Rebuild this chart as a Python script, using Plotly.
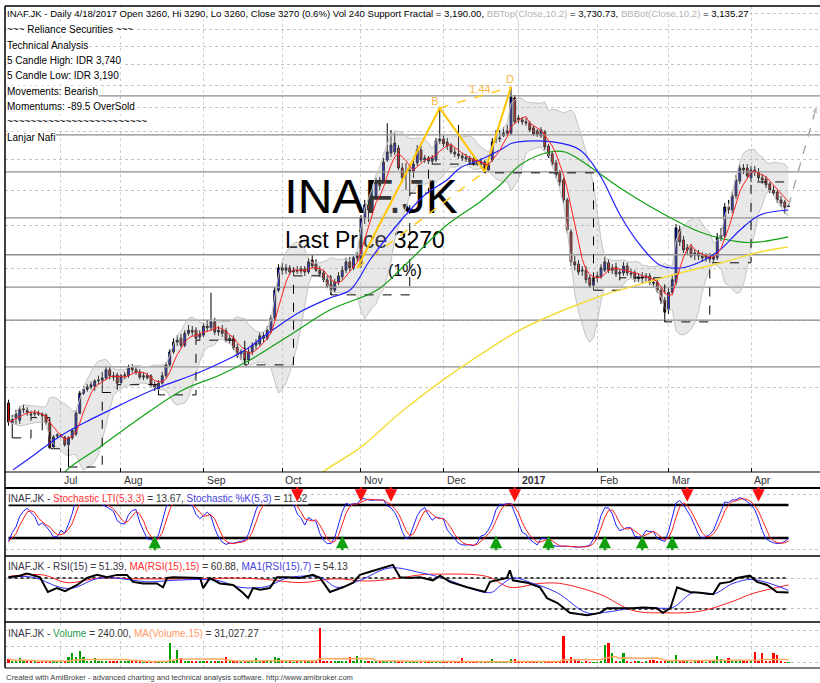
import numpy as np
import pandas as pd
import plotly.graph_objects as go

# ---------------- data ----------------
opens = [
1400,1285,1315,1300,1360,1355,1335,1335,1340,1335,
1330,1285,1160,1215,1215,1210,1170,1205,1225,1340,
1460,1485,1500,1505,1540,1545,1560,1615,1575,1580,
1530,1575,1575,1630,1615,1600,1565,1575,1575,1515,
1485,1525,1575,1650,1745,1820,1850,1795,1890,1915,
1915,1860,1875,1950,1935,1985,1900,1915,1910,1835,
1850,1780,1730,1750,1685,1745,1795,1805,1870,1850,
1915,2020,2275,2505,2480,2505,2460,2480,2470,2495,
2460,2590,2545,2480,2450,2380,2335,2275,2355,2410,
2480,2570,2505,2615,2535,3105,3285,3215,3385,3655,
3655,3985,4105,4125,4195,3850,3770,3785,3785,3935,
4160,3985,4020,3965,3985,4325,4360,4305,4230,4125,
4090,4055,4035,4020,4000,3950,3900,3950,3815,3985,
4345,4360,4420,4475,4475,5205,4775,4735,4695,4670,
4575,4515,4420,4495,4230,4090,3935,3785,3655,3355,
2925,2570,2545,2470,2480,2400,2325,2400,2410,2480,
2560,2480,2515,2440,2450,2525,2450,2450,2390,2410,
2400,2420,2355,2355,2275,2180,2090,2255,2355,2950,
2825,2705,2730,2645,2670,2635,2615,2625,2600,2615,
2860,2875,3255,3215,3415,3640,3850,3850,3690,3815,
3785,3690,3670,3595,3500,3470,3355,3325,3260]
highs = [
1420,1330,1360,1380,1390,1375,1355,1360,1355,1345,
1340,1295,1220,1230,1225,1215,1215,1255,1355,1475,
1505,1520,1535,1550,1575,1600,1640,1635,1600,1595,
1585,1600,1650,1655,1635,1620,1595,1595,1585,1535,
1545,1600,1670,1765,1850,1875,1885,1915,1960,1950,
1940,1915,1975,2000,2250,2020,1950,1960,1935,1875,
1875,1805,1765,1775,1775,1820,1845,1900,1900,1950,
2045,2305,2545,2560,2545,2535,2515,2525,2525,2525,
2615,2645,2600,2525,2480,2420,2365,2390,2460,2525,
2615,2625,2645,2680,3145,3355,3385,3425,3690,3705,
4020,4670,4535,4475,4250,3935,3935,3900,3985,4250,
4230,4070,4055,4070,4380,4985,4435,4380,4285,4195,
4635,4105,4090,4055,4035,4000,4020,3985,3950,4380,
4535,4535,4590,4635,5455,5270,4835,4795,4775,4715,
4615,4555,4590,4535,4270,4140,3985,3815,3690,3385,
2960,2635,2590,2525,2525,2430,2440,2460,2545,2635,
2600,2545,2560,2495,2570,2560,2495,2480,2440,2460,
2450,2450,2400,2390,2305,2210,2295,2420,3025,3000,
2875,2775,2775,2715,2705,2680,2670,2670,2660,2910,
2975,3310,3355,3470,3735,3900,3915,3915,3885,3885,
3850,3750,3720,3625,3565,3500,3415,3355,3290]
lows = [
1270,1205,1275,1280,1340,1325,1315,1320,1325,1245,
1275,1150,1155,1200,1205,1160,1063,1195,1215,1335,
1450,1470,1485,1475,1520,1465,1545,1550,1540,1515,
1520,1550,1560,1595,1580,1550,1545,1550,1500,1475,
1450,1515,1560,1635,1730,1790,1775,1780,1870,1870,
1835,1835,1860,1900,1910,1875,1870,1860,1820,1805,
1760,1700,1685,1650,1655,1720,1765,1790,1820,1835,
1890,2000,2255,2430,2440,2430,2420,2440,2440,2420,
2440,2505,2460,2410,2355,2295,2230,2250,2325,2380,
2450,2470,2480,2570,2505,3025,3050,3160,3355,3500,
3625,3950,4035,4070,3815,3625,3500,3455,3690,3885,
3950,3935,3915,3915,3950,4270,4215,4160,4090,4035,
4000,3965,3950,3900,3885,3885,3865,3770,3785,3950,
4285,4305,4400,4435,4435,4650,4670,4635,4615,4495,
4420,4400,4380,4160,4020,3885,3690,3565,3295,2910,
2525,2480,2430,2420,2345,2295,2275,2355,2390,2460,
2450,2440,2410,2400,2420,2420,2400,2355,2355,2345,
2365,2325,2305,2250,2145,1985,2055,2230,2325,2750,
2670,2660,2615,2590,2590,2570,2570,2560,2570,2590,
2810,2850,3160,3170,3370,3595,3750,3690,3625,3720,
3640,3595,3530,3455,3415,3310,3255,3160,3260]
closes = [
1290,1305,1335,1360,1365,1345,1330,1340,1335,1325,
1285,1155,1210,1220,1220,1170,1205,1245,1340,1460,
1485,1500,1515,1540,1545,1560,1615,1575,1565,1525,
1575,1580,1630,1615,1600,1565,1575,1560,1515,1495,
1525,1575,1650,1745,1820,1835,1795,1890,1915,1900,
1850,1885,1950,1935,1985,1900,1915,1890,1835,1850,
1775,1720,1745,1685,1745,1795,1815,1870,1850,1915,
2020,2275,2505,2480,2505,2460,2480,2470,2495,2460,
2570,2525,2480,2440,2380,2325,2275,2355,2420,2480,
2570,2505,2615,2645,3105,3285,3215,3355,3625,3565,
3950,4125,4250,4285,3850,3690,3785,3815,3915,4160,
3985,4020,3965,4020,4325,4360,4270,4230,4125,4090,
4055,4020,4000,3950,3915,3935,3965,3800,3900,4305,
4360,4380,4475,4515,5225,4695,4735,4695,4670,4535,
4455,4435,4535,4215,4055,3915,3735,3625,3355,2950,
2570,2535,2460,2480,2380,2325,2400,2420,2505,2570,
2480,2505,2440,2460,2525,2450,2440,2390,2410,2400,
2420,2355,2345,2275,2180,2070,2255,2380,2975,2800,
2705,2730,2635,2670,2635,2615,2635,2600,2625,2860,
2885,3255,3215,3415,3655,3850,3815,3720,3815,3785,
3690,3655,3580,3500,3455,3355,3310,3250,3270]
volumes = [
54000,23000,12000,74000,20000,9000,15000,18000,8000,12000,
16000,20000,14000,9000,11000,18000,90000,140000,78000,178000,
78000,25000,15000,70000,12000,18000,10000,22000,15000,20000,
9000,14000,18000,12000,16000,20000,8000,10000,14000,12000,
25000,18000,30000,310000,25000,200000,77000,30000,20000,15000,
25000,22000,12000,10000,30000,15000,22000,12000,85000,15000,
25000,18000,10000,20000,12000,15000,70000,12000,25000,15000,
20000,78000,70000,15000,10000,25000,8000,12000,10000,15000,
12000,30000,18000,527000,20000,15000,25000,12000,10000,15000,
12000,78000,15000,100000,40000,20000,12000,15000,18000,25000,
20000,15000,22000,18000,25000,20000,15000,22000,18000,20000,
10000,8000,10000,12000,20000,18000,8000,6000,5000,4000,
5000,70000,5000,4000,3000,5000,4000,6000,5000,60000,
5000,4000,8000,6000,60000,60000,5000,4000,3000,5000,
4000,3000,5000,6000,25000,8000,25000,10000,410000,20000,
80000,50000,12000,8000,10000,6000,8000,5000,10000,270000,
295000,140000,25000,10000,155000,12000,8000,10000,25000,8000,
10000,45000,45000,12000,10000,25000,20000,15000,110000,40000,
25000,10000,8000,12000,10000,40000,8000,10000,20000,100000,
60000,25000,75000,20000,25000,20000,15000,10000,12000,165000,
15000,140000,10000,12000,140000,115000,10000,8000,240]

# moving averages (bar index, price)
ma_blue_idx = [1.2,5.7,11.1,15.6,21.7,27.1,33.7,40.4,51.1,63.1,69.7,77.7,85.7,91.1,96.4,102.5,107.1,111.6,
               116.9,120.4,125.7,131.1,134.5,145.2,152.4,157.7,163.1,168.4,173.7,179.1,184.4,189.7,195.1,200.4,207.9]
ma_blue_val = [1050,1105,1179,1236,1302,1359,1431,1500,1600,1759,1901,2071,2200,2277,2591,2948,3213,3457,
               3656,3850,3985,4160,4287,4306,4160,3736,3145,2764,2536,2503,2569,2705,2948,3145,3213]
ma_green_idx = [13.7,15.6,24.4,35.1,46.5,56.4,64.4,75.1,85.7,98.3,105.2,116.9,125.7,131.1,136.4,144.4,148.4,
                152.4,163.1,173.7,184.4,195.1,200.4,207.9]
ma_green_val = [1005,1050,1159,1313,1481,1580,1685,1876,2089,2277,2514,3012,3326,3578,3900,4124,4124,
                3985,3532,3186,2923,2800,2800,2861]
ma_yellow_idx = [81.7,83.9,93.7,104.4,115.9,125.7,136.4,148.1,158.8,169.5,180.1,190.8,200.4,207.9]
ma_yellow_val = [1005,1041,1154,1341,1546,1722,1917,2089,2229,2347,2461,2569,2682,2740]

# RSI(15) and its averages (bar index, value)
rsi_idx = [0,3.1,4.9,8.4,10.5,12.9,15.1,18.3,20.9,23.6,26.3,28.9,31.6,33.2,35.9,39.6,41.2,42.3,43.9,47.6,51.1,
           51.9,53.7,56.4,59.9,62.5,63.9,65.2,67.1,69.7,71.6,74.3,77.7,81.2,83.1,85.7,89.2,91.9,93.7,96.4,99.9,
           102.5,104.4,107.1,109.7,113.2,115.1,117.7,122.3,127.1,128.4,132.9,133.7,134.5,138.3,141.7,143.6,146.3,
           149.7,154.3,157.7,159.6,163.1,166.5,169.2,172.9,174.5,176.5,178.3,181.7,184.4,187.9,189.7,192.4,194.3,
           197.7,199.6,202.3,204.9,208]
rsi_val = [71,73,76,71,52,57,53,61,70,74,71,74,74,65,63,63,58,70,71,70,70,
           57,70,63,61,51,44,57,55,57,71,71,70,74,70,52,58,64,74,78,83,
           87,71,70,71,67,73,65,58,52,65,70,80,67,64,58,44,38,
           25,22,25,31,31,31,32,31,25,31,58,52,51,49,63,65,70,
           73,65,61,52,51.4]
rsi_ma15_idx = [0,9.2,15.6,24.4,33.2,53,60,69,78,87,95.6,104.4,109.7,115.1,127.6,133.7,141.7,147,157.7,166.5,
                175.6,184.4,193.2,198.5,208]
rsi_ma15_val = [72,74,64,70,69,69,70,68,64,69,66,70,74,75,72,58,63,63,49,28,25,27,40,50,61]
rsi_ma7_idx = [0,6.5,13.7,17.2,24.4,37.7,43.9,55.6,61.7,68.9,74.3,83.1,87.6,93.7,101.7,109.7,115.1,128.5,131.1,
               134.5,139.9,146.3,154.3,159.6,166.5,173.7,177.2,182.5,187.9,193.2,198.5,208]
rsi_ma7_val = [71,71,58,57,70,65,67,67,58,59,70,71,58,67,83,77,71,51,60,70,63,51,25,26,31,31,32,51,49,63,68,54.1]

sr_levels = [5250, 4440, 3785, 3105, 2650, 2305, 2000, 1635]
abcd_idx = [93, 115, 127, 134]
abcd_val = [2505, 4985, 3790, 5455]
proj_idx = [208, 215.6]
proj_val = [3270, 5050]

stoch_sell_idx = [77, 94, 102, 135, 181, 200]
stoch_buy_idx = [39, 89, 130, 144, 159, 169, 177]
stoch_levels = [80, 20]
rsi_levels = [70, 30]

month_labels = ["Jul", "Aug", "Sep", "Oct", "Nov", "Dec", "2017", "Feb", "Mar", "Apr"]
month_idx = [14, 30, 52, 73, 94, 116, 136, 157, 176, 198]

# ---------------- geometry helpers ----------------
W, H = 820, 683
FONT = "Liberation Sans, Arial, sans-serif"
XR = [-0.93, 216.4]
X0PX = 5
LOG_TOP, LOG_BOT = 3.88818, 3.017226


def yp(p):
    return 1 - p / H


def xp(p):
    return p / W


def x_of(px_):
    return XR[0] + (px_ - X0PX) * (XR[1] - XR[0]) / (W - X0PX)


def price_of(py_):
    return 10 ** (LOG_BOT + (472 - py_) * (LOG_TOP - LOG_BOT) / 466)


n = len(closes)
idx = np.arange(n)
c = pd.Series(closes, dtype=float)
hi = pd.Series(highs, dtype=float)
lo = pd.Series(lows, dtype=float)
v = pd.Series(volumes, dtype=float)

ma_red = c.rolling(5, min_periods=1).mean()
mid = c.rolling(10, min_periods=1).mean()
sd = c.rolling(10, min_periods=1).std(ddof=0)
bb_up, bb_lo = mid + 2 * sd, mid - 2 * sd

# support fractal
lo_a = lo.values
sup = np.full(n, np.nan)
cur = np.nan
for i in range(n):
    left = lo_a[max(0, i - 2):i]
    right = lo_a[i + 1:i + 3]
    if len(right) == 2 and len(left) >= 1 and lo_a[i] < left.min() and lo_a[i] <= right.min():
        cur = lo_a[i]
    sup[i] = cur

# stochastic
ll = lo.rolling(5, min_periods=1).min()
hh = hi.rolling(5, min_periods=1).max()
raw = 100 * (c - ll) / (hh - ll).replace(0, np.nan)
raw = raw.fillna(50)
st_k = raw.rolling(3, min_periods=1).mean()
st_d = st_k.rolling(3, min_periods=1).mean()

vol_ma = v.rolling(15, min_periods=1).mean()
vol_col = ['#00a000' if cl >= op else '#ff0000' for op, cl in zip(opens, closes)]

fig = go.Figure()
M = dict(xaxis='x', yaxis='y', hoverinfo='skip', showlegend=False)

# watermark text (below the price marks)
fig.add_trace(go.Scatter(x=[x_of(371)], y=[price_of(201)], mode='text', text=['INAF.JK'],
                         textfont=dict(family=FONT, size=48, color='black'), **M))
fig.add_trace(go.Scatter(x=[x_of(365)], y=[price_of(242)], mode='text', text=['Last Price 3270'],
                         textfont=dict(family=FONT, size=23, color='black'), **M))
fig.add_trace(go.Scatter(x=[x_of(405)], y=[price_of(272)], mode='text', text=['(1%)'],
                         textfont=dict(family=FONT, size=16, color='black'), **M))

# support / resistance lines
for lv in sr_levels:
    fig.add_trace(go.Scatter(x=[XR[0], XR[1]], y=[lv, lv], mode='lines',
                             line=dict(color='#8c8c8c', width=1.3), **M))

# Bollinger shading
fig.add_trace(go.Scatter(x=idx, y=bb_lo, mode='lines', line=dict(color='#c4c4c4', width=1), **M))
fig.add_trace(go.Scatter(x=idx, y=bb_up, mode='lines', line=dict(color='#c4c4c4', width=1),
                         fill='tonexty', fillcolor='rgba(180,180,180,0.3)', **M))

# fractal support
fig.add_trace(go.Scatter(x=idx, y=sup, mode='lines', line=dict(color='black', width=1, dash='dash', shape='hv'), **M))

# ABCD pattern
fig.add_trace(go.Scatter(x=[abcd_idx[0], abcd_idx[2]], y=[abcd_val[0], abcd_val[2]], mode='lines',
                         line=dict(color='#ffcc22', width=1.5, dash='dash'), **M))
fig.add_trace(go.Scatter(x=[abcd_idx[1], abcd_idx[3]], y=[abcd_val[1], abcd_val[3]], mode='lines',
                         line=dict(color='#ffcc22', width=1.5, dash='dash'), **M))
fig.add_trace(go.Scatter(x=abcd_idx, y=abcd_val, mode='lines', line=dict(color='#ffc600', width=2), **M))

# candles
fig.add_trace(go.Candlestick(x=idx, open=opens, high=highs, low=lows, close=closes,
                             increasing=dict(line=dict(color='black', width=1), fillcolor='#0000ff'),
                             decreasing=dict(line=dict(color='black', width=1), fillcolor='#ff0000'),
                             whiskerwidth=0, xaxis='x', yaxis='y', hoverinfo='skip', showlegend=False))

# moving averages
fig.add_trace(go.Scatter(x=ma_yellow_idx, y=ma_yellow_val, mode='lines', line=dict(color='#f5dc3c', width=1.5, shape='spline'), **M))
fig.add_trace(go.Scatter(x=ma_green_idx, y=ma_green_val, mode='lines', line=dict(color='#10a010', width=1.2, shape='spline'), **M))
fig.add_trace(go.Scatter(x=ma_blue_idx, y=ma_blue_val, mode='lines', line=dict(color='#2020ff', width=1.2, shape='spline'), **M))
fig.add_trace(go.Scatter(x=idx, y=ma_red, mode='lines', line=dict(color='#ff2020', width=1), **M))

# pattern labels
fig.add_trace(go.Scatter(x=[x_of(435), x_of(510), x_of(480)], y=[price_of(102), price_of(80), price_of(90)],
                         mode='text', text=['B', 'D', '1.44'],
                         textfont=dict(family=FONT, size=11, color='#f5b942'), **M))

# projection arrow
fig.add_trace(go.Scatter(x=proj_idx, y=proj_val, mode='lines+markers',
                         line=dict(color='#a0a0a0', width=1.3, dash='dash'),
                         marker=dict(symbol=['circle', 'arrow'], size=[1, 9], color='#a0a0a0', angleref='previous'), **M))

# ---------------- stochastic ----------------
S = dict(xaxis='x2', yaxis='y2', hoverinfo='skip', showlegend=False)
for lv in stoch_levels:
    fig.add_trace(go.Scatter(x=[idx[0], idx[-1]], y=[lv, lv], mode='lines', line=dict(color='black', width=2.5), **S))
fig.add_trace(go.Scatter(x=idx, y=st_k, mode='lines', line=dict(color='#2020ff', width=1), **S))
fig.add_trace(go.Scatter(x=idx, y=st_d, mode='lines', line=dict(color='#ff2020', width=1), **S))

# ---------------- RSI ----------------
R = dict(xaxis='x3', yaxis='y3', hoverinfo='skip', showlegend=False)
for lv in rsi_levels:
    fig.add_trace(go.Scatter(x=[idx[0], idx[-1]], y=[lv, lv], mode='lines', line=dict(color='black', width=1.5, dash='dot'), **R))
fig.add_trace(go.Scatter(x=rsi_ma15_idx, y=rsi_ma15_val, mode='lines', line=dict(color='#ff2020', width=1, shape='spline'), **R))
fig.add_trace(go.Scatter(x=rsi_ma7_idx, y=rsi_ma7_val, mode='lines', line=dict(color='#3030ff', width=1, shape='spline'), **R))
fig.add_trace(go.Scatter(x=rsi_idx, y=rsi_val, mode='lines', line=dict(color='black', width=2), **R))

# ---------------- volume ----------------
V = dict(xaxis='x4', yaxis='y4', hoverinfo='skip', showlegend=False)
fig.add_trace(go.Bar(x=idx, y=volumes, marker=dict(color=vol_col, line=dict(width=0)), width=0.55, **V))
fig.add_trace(go.Scatter(x=idx, y=vol_ma, mode='lines', line=dict(color='#ffa860', width=1.5), **V))


def xax(anchor, ticks=''):
    return dict(domain=[X0PX / W, 1], range=XR, anchor=anchor, showticklabels=False, tickvals=month_idx,
                ticks=ticks, ticklen=4, tickcolor='black', showgrid=True, gridcolor='#d0d0d0', griddash='dot',
                gridwidth=1, zeroline=False, showline=False, fixedrange=True, rangeslider=dict(visible=False))


def yax(dom, rng, tv, typ='linear'):
    return dict(domain=dom, range=rng, type=typ, tickvals=tv, showticklabels=False, showgrid=True,
                gridcolor='#c4c4c4', griddash='dot', gridwidth=1, zeroline=False, showline=False, fixedrange=True)


fig.update_layout(
    width=W, height=H, margin=dict(l=0, r=0, t=0, b=0), paper_bgcolor='white', plot_bgcolor='white',
    showlegend=False, font=dict(family=FONT, size=10, color='black'), bargap=0,
    xaxis=xax('y', 'inside'), xaxis2=xax('y2'), xaxis3=xax('y3'), xaxis4=xax('y4'),
    yaxis=yax([yp(472), yp(6)], [LOG_BOT, LOG_TOP], list(range(1500, 8000, 500)), 'log'),
    yaxis2=yax([yp(556), yp(488)], [-12.7, 111], [0, 100]),
    yaxis3=yax([yp(622), yp(557)], [13.2, 97.1], [30, 70]),
    yaxis4=yax([yp(668), yp(623)], [-85000, 612000], [0, 250000, 500000]),
)

# borders and separators
shapes = []
def hline(py_, w=1.5, col='black'):
    shapes.append(dict(type='line', xref='paper', yref='paper', x0=xp(5), x1=1, y0=yp(py_), y1=yp(py_),
                       line=dict(color=col, width=w)))
for py_, w in [(6, 1.5), (472, 1), (488, 2), (556, 1.5), (622, 1.5), (668, 1)]:
    hline(py_, w)
shapes.append(dict(type='line', xref='paper', yref='paper', x0=xp(5), x1=xp(5), y0=yp(668), y1=yp(6),
                   line=dict(color='black', width=1.5)))
shapes.append(dict(type='line', xref='x', yref='paper', x0=month_idx[6], x1=month_idx[6], y0=yp(668), y1=yp(6),
                   line=dict(color='#d8d8f4', width=1), layer='below'))
fig.update_layout(shapes=shapes)

# text
ann = []
def txt(s, px_, py_, size=10, color='black', bg='white'):
    ann.append(dict(text=s, x=xp(px_), y=yp(py_), xref='paper', yref='paper', xanchor='left', yanchor='middle',
                    showarrow=False, font=dict(family=FONT, size=size, color=color), bgcolor=bg, borderpad=0))

GR = '<span style="color:#b4b4b4">'
txt('INAF.JK - Daily 4/18/2017 Open 3260, Hi 3290, Lo 3260, Close 3270 (0.6%) Vol 240 Support Fractal = 3,190.00, '
    + GR + 'BBTop(Close,10,2)</span> = 3,730.73, ' + GR + 'BBBot(Close,10,2)</span> = 3,135.27', 6, 13, size=9.6)
rows = ['~~~ Reliance Securities ~~~', 'Technical Analysis', '5 Candle High: IDR 3,740', '5 Candle Low: IDR 3,190',
        'Movements: Bearish', 'Momentums: -89.5 OverSold', '~~~~~~~~~~~~~~~~~~~~~~~~', 'Lanjar Nafi']
for k, r in enumerate(rows):
    txt(r, 6, 30 + k * 15.3)

DK = '#3a3346'
txt('<span style="color:%s">INAF.JK - </span><span style="color:#ff3030">Stochastic LTI(5,3,3)</span> = 13.67, '
    '<span style="color:#4444dd">Stochastic %%K(5,3)</span> = 11.52' % DK, 7, 498, color='#333')
txt('<span style="color:%s">INAF.JK - RSI(15) = 51.39, </span><span style="color:#ff3030">MA(RSI(15),15)</span> = 60.88, '
    '<span style="color:#4444dd">MA1(RSI(15),7)</span> = 54.13' % DK, 7, 566, color='#333')
txt('<span style="color:%s">INAF.JK - </span><span style="color:#2a9a50">Volume</span> = 240.00, '
    '<span style="color:#ff9966">MA(Volume,15)</span> = 31,027.27' % DK, 7, 633, color='#333')
txt('Created with AmiBroker - advanced charting and technical analysis software. http://www.amibroker.com',
    5, 677, size=7.6, color='#404040', bg='rgba(0,0,0,0)')

for lab, mi in zip(month_labels, month_idx):
    ann.append(dict(text=('<b>%s</b>' % lab) if lab == '2017' else lab, x=mi + 0.3, y=yp(480), xref='x', yref='paper',
                    xanchor='left', yanchor='middle', showarrow=False,
                    font=dict(family=FONT, size=10.5, color='#333')))

for k in stoch_sell_idx:
    ann.append(dict(x=k, y=86, xref='x2', yref='y2', ax=0, ay=-16, showarrow=True, arrowhead=2, arrowsize=1,
                    arrowwidth=2.5, arrowcolor='#ff1010', text=''))
for k in stoch_buy_idx:
    ann.append(dict(x=k, y=24, xref='x2', yref='y2', ax=0, ay=16, showarrow=True, arrowhead=2, arrowsize=1,
                    arrowwidth=2.5, arrowcolor='#10a010', text=''))

fig.update_layout(annotations=ann)
fig.write_html("out.html", config={'displayModeBar': False},
               post_script="document.body.style.margin='0';document.body.style.overflow='hidden';")
